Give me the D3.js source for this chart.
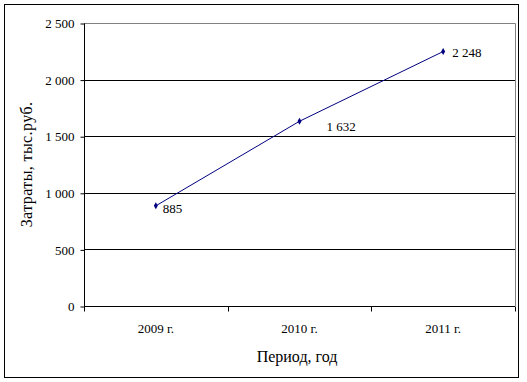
<!DOCTYPE html>
<html><head><meta charset="utf-8">
<script src="https://cdn.jsdelivr.net/npm/d3@7"></script>
<style>body{margin:0;background:#fff}svg{display:block}</style>
</head><body>
<svg id="c" width="527" height="382"></svg>
<script>
const categories = ["2009 г.", "2010 г.", "2011 г."];
const values = [885, 1632, 2248];
const labels = ["885", "1 632", "2 248"];
const yTicks = [0, 500, 1000, 1500, 2000, 2500];
const yTickLabels = ["0", "500", "1 000", "1 500", "2 000", "2 500"];

const FONT = "'Liberation Serif', 'Times New Roman', serif";
const svg = d3.select("#c");
const m = {l: 84, t: 23, r: 515, b: 306};
svg.append("rect").attr("x", 4.5).attr("y", 4.5).attr("width", 514).attr("height", 373)
  .attr("fill", "#fff").attr("stroke", "#000").attr("stroke-width", 1);

const x = d3.scaleBand().domain(categories).range([m.l, m.r]);
const y = d3.scaleLinear().domain([0, 2500]).range([m.b, m.t]);

svg.append("g").selectAll("line").data(yTicks.filter(d => d > 0 && d < 2500)).join("line")
  .attr("x1", m.l).attr("x2", m.r).attr("y1", d => Math.round(y(d)) + 0.5).attr("y2", d => Math.round(y(d)) + 0.5)
  .attr("stroke", "#000");
svg.append("path").attr("d", `M${m.l},${Math.round(y(2500))+0.5}H${m.r+0.5}V${m.b}`)
  .attr("fill", "none").attr("stroke", "#808080");

const yAxis = d3.axisLeft(y).tickValues(yTicks).tickFormat((d, i) => yTickLabels[i]).tickSize(4).tickPadding(6);
const gy = svg.append("g").attr("transform", `translate(${m.l + 0.5},0.5)`).call(yAxis)
  .attr("font-family", FONT).attr("font-size", 13);
gy.selectAll("text").attr("fill", "#000");
gy.selectAll("line,path").attr("stroke", "#000");
gy.select(".domain").attr("d", `M0,${y(2500)}V${y(0)}`);

const xAxis = d3.axisBottom(x).tickSize(0).tickPadding(17);
const gx = svg.append("g").attr("transform", `translate(0,${m.b + 0.5})`).call(xAxis)
  .attr("font-family", FONT).attr("font-size", 13);
gx.selectAll("text").attr("fill", "#000");
gx.select(".domain").attr("d", `M${m.l},0H${m.r}`).attr("stroke", "#000");
const bounds = [m.l, ...categories.map(c => x(c) + x.bandwidth())];
gx.append("g").selectAll("line").data(bounds).join("line")
  .attr("x1", d => Math.round(d) + 0.5).attr("x2", d => Math.round(d) + 0.5)
  .attr("y1", 0).attr("y2", 5).attr("stroke", "#000");

const px = (d, i) => x(categories[i]) + x.bandwidth() / 2;
svg.append("path").datum(values)
  .attr("d", d3.line().x(px).y(d => y(d)))
  .attr("fill", "none").attr("stroke", "#000080").attr("stroke-width", 1);
svg.append("g").selectAll("path").data(values).join("path")
  .attr("d", d3.symbol(d3.symbolDiamond, 14))
  .attr("transform", (d, i) => `translate(${px(d, i)},${y(d)})`)
  .attr("fill", "#000080");

const dx = [7, 27, 9], dy = [7, 10, 5];
svg.append("g").attr("font-family", FONT).selectAll("text").data(values).join("text")
  .attr("x", (d, i) => px(d, i) + dx[i]).attr("y", (d, i) => y(d) + dy[i])
  .attr("font-size", 13).attr("fill", "#000").text((d, i) => labels[i]);

svg.append("text").attr("font-family", FONT).attr("x", 297).attr("y", 362).attr("text-anchor", "middle")
  .attr("font-size", 16).text("Период, год");
svg.append("text").attr("font-family", FONT).attr("transform", `translate(32,${(m.t + m.b) / 2}) rotate(-90)`).attr("text-anchor", "middle")
  .attr("font-size", 16).attr("letter-spacing", 0.4).text("Затраты, тыс.руб.");
</script>
</body></html>
